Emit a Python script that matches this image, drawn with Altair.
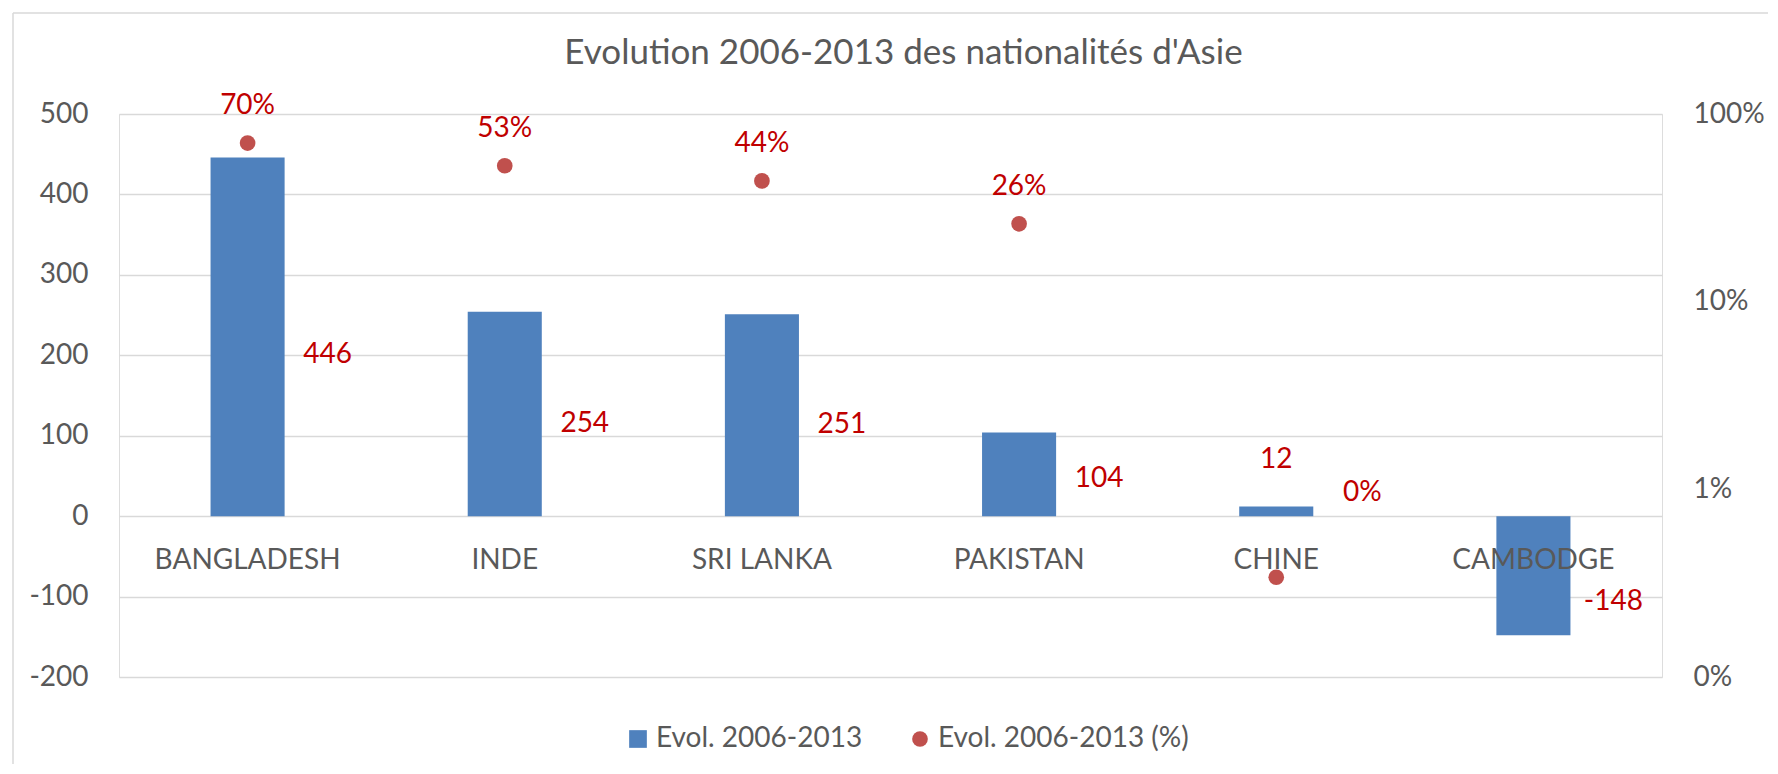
import altair as alt
import pandas as pd

# ---- data ----
pays = ["BANGLADESH", "INDE", "SRI LANKA", "PAKISTAN", "CHINE", "CAMBODGE"]
evol = [446, 254, 251, 104, 12, -148]
evol_pct = [0.70, 0.53, 0.44, 0.26, 0.0034, None]
S1 = "Evol. 2006-2013"
S2 = "Evol. 2006-2013 (%)"
titre = "Evolution 2006-2013 des nationalités d'Asie"
left_ticks = [-200, -100, 0, 100, 200, 300, 400, 500]
right_ticks = [0.001, 0.01, 0.1, 1]

df = pd.DataFrame({"pays": pays, "evol": evol, "pct": evol_pct})

GRAY = "#595959"
GRID = "#D9D9D9"
BLUE = "#4F81BD"
DOT = "#C0504D"
RED = "#C00000"
FONT = "Lato"
FS = 28

W, H = 1543, 563
PADL, PADT = 111, 106
PADR = 1760 - PADL - W
PADB = 756 - PADT - H

base = alt.Chart(df)

xenc = alt.X(
    "pays:N", sort=pays,
    scale=alt.Scale(paddingInner=0, paddingOuter=0),
    axis=alt.Axis(title=None, labelAngle=0, domain=False, ticks=False,
                  labelFontSize=FS, labelColor=GRAY, labelFont=FONT, labelLimit=0,
                  labelPadding=29, offset=-160, zindex=1),
)

scaleL = alt.Scale(domain=[-200, 500], nice=False)
axisL = alt.Axis(title=None, orient="left", values=left_ticks, grid=True,
                 gridColor=GRID, gridWidth=1.3, domain=False, ticks=False,
                 labelExpr="replace(datum.label, '\u2212', '-')",
                 labelFontSize=FS, labelColor=GRAY, labelFont=FONT, labelPadding=31)

scaleR = alt.Scale(type="log", domain=[0.001, 1], nice=False)
axisR = alt.Axis(title=None, orient="right", values=right_ticks, format=".0%",
                 grid=False, domain=False, ticks=False,
                 labelFontSize=FS, labelColor=GRAY, labelFont=FONT, labelPadding=31)

def make_legend(x, shape, size):
    return alt.Legend(
        title=None, orient="none", legendX=x, legendY=611, direction="horizontal",
        labelFontSize=FS, labelColor=GRAY, labelFont=FONT, labelOffset=4, labelLimit=0,
        symbolOpacity=1, symbolStrokeWidth=0, symbolType=shape, symbolSize=size,
        padding=0,
    )

border_top = alt.Chart(alt.Data(values=[{}])).mark_rule(color=GRID, strokeWidth=1.5).encode(
    x=alt.value(-PADL + 5), x2=alt.value(W + PADR + 10), y=alt.value(-PADT + 5))
border_left = alt.Chart(alt.Data(values=[{}])).mark_rule(color=GRID, strokeWidth=1.5).encode(
    x=alt.value(-PADL + 5), y=alt.value(-PADT + 5), y2=alt.value(H + PADB + 10))

bars = base.transform_calculate(serie="'%s'" % S1).mark_bar(
    width=alt.RelativeBandSize(0.288)).encode(
    x=xenc,
    y=alt.Y("evol:Q", scale=scaleL, axis=axisL),
    color=alt.Color("serie:N", scale=alt.Scale(domain=[S1], range=[BLUE]),
                    legend=make_legend(505, "square", 313)),
)

txt = dict(fontSize=FS, font=FONT, color=RED, align="center", baseline="middle")

lbl_mid = base.transform_filter("abs(datum.evol) >= 50").transform_calculate(
    anchor="datum.evol > 0 ? datum.evol * 0.45 : datum.evol * 0.72",
    lab="'' + datum.evol").mark_text(dx=80, **txt).encode(
    x=xenc, y=alt.Y("anchor:Q", scale=scaleL, axis=axisL),
    text="lab:N")

lbl_small = base.transform_filter("abs(datum.evol) < 50").transform_calculate(
    lab="'' + datum.evol").mark_text(dy=-46, **txt).encode(
    x=xenc, y=alt.Y("evol:Q", scale=scaleL, axis=axisL),
    text="lab:N")

lbl_pct_small = base.transform_filter("isValid(datum.pct) && datum.pct < 0.01").mark_text(
    dx=86, dy=-13, **txt).encode(
    x=xenc, y=alt.Y("evol:Q", scale=scaleL, axis=axisL),
    text=alt.Text("pct:Q", format=".0%"))

points = base.transform_filter("isValid(datum.pct)").transform_calculate(
    serie2="'%s'" % S2).mark_circle(size=246, opacity=1).encode(
    x=xenc,
    y=alt.Y("pct:Q", scale=scaleR, axis=axisR),
    color=alt.Color("serie2:N", scale=alt.Scale(domain=[S2], range=[DOT]),
                    legend=make_legend(787, "circle", 246)),
)

lbl_pct = base.transform_filter("isValid(datum.pct) && datum.pct >= 0.01").mark_text(
    dy=-37, **txt).encode(
    x=xenc, y=alt.Y("pct:Q", scale=scaleR, axis=axisR),
    text=alt.Text("pct:Q", format=".0%"))

left = alt.layer(border_top, border_left, bars, lbl_mid, lbl_small, lbl_pct_small)
right = alt.layer(points, lbl_pct)

chart = alt.layer(left, right).resolve_scale(y="independent", color="independent").resolve_legend(
    color="independent").properties(
    width=W, height=H,
    title=alt.TitleParams(titre, fontSize=35, font=FONT, color=GRAY, fontWeight="normal",
                          anchor="middle", baseline="alphabetic", offset=-87, dx=13,
                          frame="group"),
    padding={"left": PADL, "top": PADT, "right": PADR, "bottom": PADB},
    autosize=alt.AutoSizeParams(type="none"),
).configure_view(stroke=None).configure(font=FONT, background="white")

chart.save("out.html", embed_options={"renderer": "svg", "actions": False})
